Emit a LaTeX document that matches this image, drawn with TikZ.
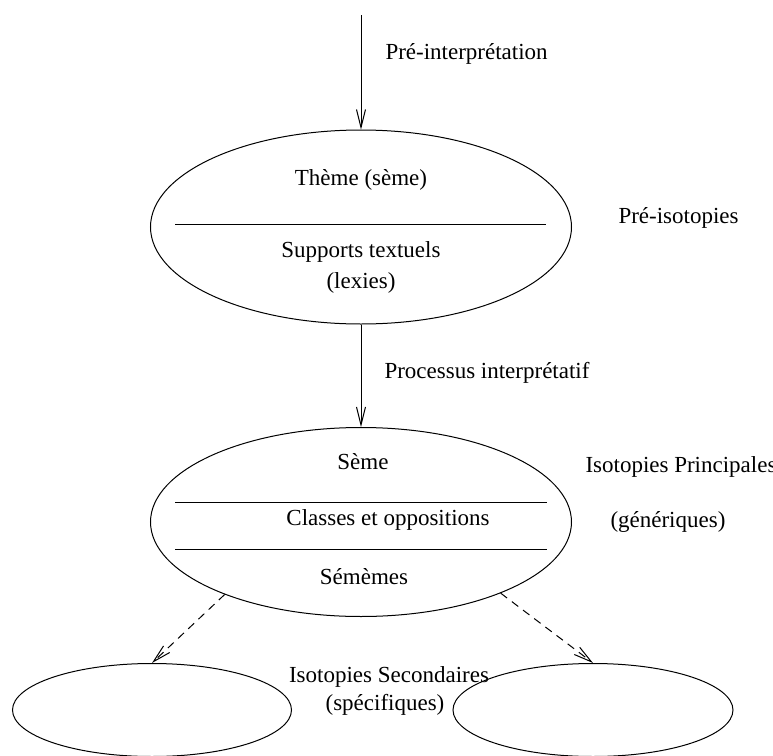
\documentclass[tikz,border=0pt]{standalone}
\usepackage{fontspec}
\setmainfont{Liberation Serif}
\usepackage{tikz}
\usetikzlibrary{arrows.meta,shapes.geometric}

\tikzset{
  isobox/.style={draw, ellipse, inner sep=0pt},
  lbl/.style={inner sep=0pt},
  flow/.style={-{Straight Barb[length=9pt,width=4.5pt]}},
  flowdash/.style={flow, dash pattern=on 4pt off 3pt}
}

\begin{document}
\begin{tikzpicture}[x=0.5pt, y=-0.5pt, line width=0.5pt,
    font=\fontsize{11.5pt}{14pt}\selectfont]

    \useasboundingbox (0,0) rectangle (773,756);

    % pre-isotopies
    \node[isobox, minimum width=210.5pt, minimum height=97pt] (pre) at (361,227) {};
    \draw ([shift={(-186,-3)}]pre.center) -- ([shift={(185,-3)}]pre.center);
    \node[lbl] (theme) at (361,180) {Thème (sème)};
    \node[lbl] (supports) at (361,252) {Supports textuels};
    \node[lbl] (lexies) at (361,283) {(lexies)};
    \node[lbl, anchor=west] (preiso) at (618,218) {Pré-isotopies};

    % isotopies principales
    \node[isobox, minimum width=210.5pt, minimum height=94.5pt] (princ) at (361,522) {};
    \draw ([shift={(-186,-20)}]princ.center) -- ([shift={(186,-20)}]princ.center);
    \draw ([shift={(-186,27)}]princ.center) -- ([shift={(186,27)}]princ.center);
    \node[lbl] (seme) at (363,462) {Sème};
    \node[lbl] (classes) at (388,520) {Classes et oppositions};
    \node[lbl] (sememes) at (364,577) {Sémèmes};
    \node[lbl, anchor=west] (princlbl) at (585,467) {Isotopies Principales};
    \node[lbl, anchor=west] (generiques) at (610,522) {(génériques)};

    % isotopies secondaires
    \node[isobox, minimum width=139.5pt, minimum height=46.5pt] (secg) at (152,710) {};
    \node[isobox, minimum width=140pt, minimum height=46.5pt] (secd) at (593,710) {};
    \node[lbl] (seclbl) at (389,677) {Isotopies Secondaires};
    \node[lbl] (specifiques) at (385,705) {(spécifiques)};

    % fleches
    \coordinate (start) at (361,15);
    \draw[flow] (start) -- (pre.north);
    \node[lbl, anchor=west] (preinterp) at (385,54) {Pré-interprétation};
    \draw[flow] (pre.south) -- (princ.north);
    \node[lbl, anchor=west] (processus) at (384,373) {Processus interprétatif};
    \draw[flowdash] (princ.208) -- (secg.north);
    \draw[flowdash] (princ.333) -- (secd.north);

\end{tikzpicture}
\end{document}
